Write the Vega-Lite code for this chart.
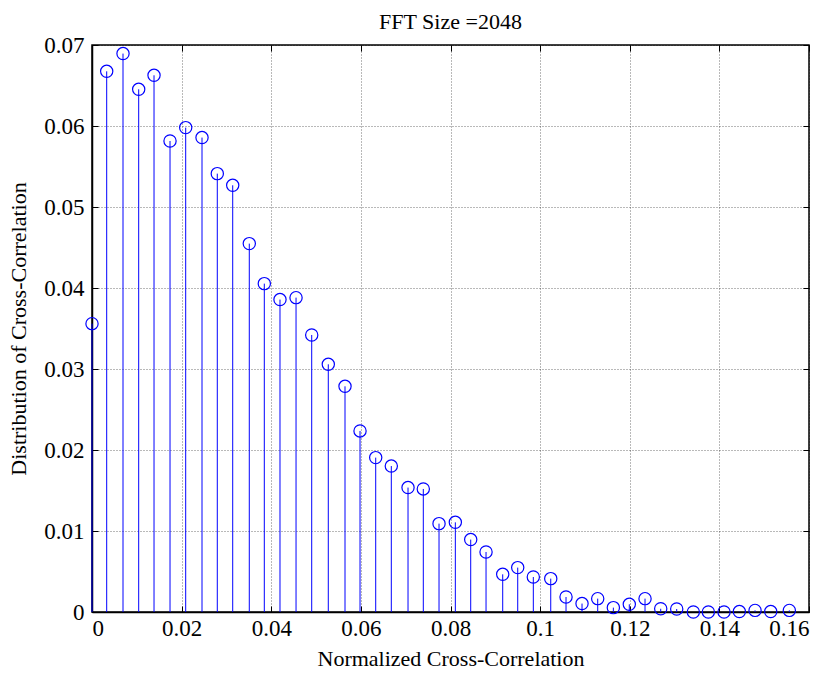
{
  "$schema": "https://vega.github.io/schema/vega-lite/v6.json",
  "width": 717,
  "height": 567,
  "autosize": "none",
  "padding": {"left": 92, "top": 45, "right": 28, "bottom": 63},
  "background": "white",
  "title": {"text": "FFT Size =2048", "font": "Liberation Serif", "fontSize": 22, "fontWeight": "normal", "color": "black", "anchor": "middle", "offset": 0},
  "config": {
    "view": {"stroke": "black", "strokeWidth": 1.5},
    "axis": {
      "labelFont": "Liberation Serif", "labelFontSize": 23, "labelColor": "black",
      "titleFont": "Liberation Serif", "titleFontSize": 22, "titleFontWeight": "normal", "titleColor": "black",
      "domainColor": "black", "domainWidth": 1.5,
      "tickColor": "black", "tickSize": -6, "tickWidth": 1,
      "gridColor": "black", "gridDash": [1, 2], "gridOpacity": 0.55, "gridWidth": 1
    }
  },
  "data": {"values": [
    {"x": 0.0, "y": 0.0356},
    {"x": 0.00328, "y": 0.06675},
    {"x": 0.00692, "y": 0.06894},
    {"x": 0.01042, "y": 0.06453},
    {"x": 0.01384, "y": 0.06626},
    {"x": 0.01741, "y": 0.05815},
    {"x": 0.02091, "y": 0.0598},
    {"x": 0.02455, "y": 0.05857},
    {"x": 0.02796, "y": 0.05412},
    {"x": 0.0314, "y": 0.05268},
    {"x": 0.0351, "y": 0.04548},
    {"x": 0.03845, "y": 0.04054},
    {"x": 0.04195, "y": 0.03857},
    {"x": 0.04553, "y": 0.03881},
    {"x": 0.04903, "y": 0.0342},
    {"x": 0.05273, "y": 0.03058},
    {"x": 0.05646, "y": 0.02786},
    {"x": 0.05981, "y": 0.02235},
    {"x": 0.06331, "y": 0.01906},
    {"x": 0.06679, "y": 0.01802},
    {"x": 0.07052, "y": 0.01536},
    {"x": 0.07393, "y": 0.01519},
    {"x": 0.07744, "y": 0.01091},
    {"x": 0.08108, "y": 0.01107},
    {"x": 0.08451, "y": 0.00894},
    {"x": 0.08793, "y": 0.00741},
    {"x": 0.09165, "y": 0.00465},
    {"x": 0.095, "y": 0.00548},
    {"x": 0.09848, "y": 0.00432},
    {"x": 0.10237, "y": 0.00412},
    {"x": 0.10578, "y": 0.00185},
    {"x": 0.10935, "y": 0.00104},
    {"x": 0.11285, "y": 0.00165},
    {"x": 0.11634, "y": 0.00054},
    {"x": 0.1199, "y": 0.00095},
    {"x": 0.12341, "y": 0.00165},
    {"x": 0.12691, "y": 0.0004},
    {"x": 0.13048, "y": 0.00037},
    {"x": 0.13419, "y": 0.0},
    {"x": 0.13754, "y": 0.0},
    {"x": 0.14104, "y": 0.0},
    {"x": 0.14446, "y": 0.00005},
    {"x": 0.14796, "y": 0.0002},
    {"x": 0.15146, "y": 0.00005},
    {"x": 0.15561, "y": 0.0002}
  ]},
  "layer": [
    {
      "mark": {"type": "rule", "color": "#0000ff", "strokeWidth": 1},
      "encoding": {
        "x": {"field": "x", "type": "quantitative", "scale": {"domain": [0, 0.16], "nice": false},
          "axis": {"orient": "bottom", "values": [0, 0.02, 0.04, 0.06, 0.08, 0.1, 0.12, 0.14, 0.16], "format": "~g", "grid": true, "title": "Normalized Cross-Correlation", "labelPadding": 11, "titlePadding": 8}},
        "y": {"field": "y", "type": "quantitative", "scale": {"domain": [0, 0.07], "nice": false},
          "axis": {"orient": "left", "values": [0, 0.01, 0.02, 0.03, 0.04, 0.05, 0.06, 0.07], "format": "~g", "grid": true, "title": "Distribution of Cross-Correlation", "labelPadding": 14, "titlePadding": 13}},
        "y2": {"datum": 0}
      }
    },
    {
      "mark": {"type": "point", "shape": "circle", "filled": false, "color": "#0000ff", "size": 150, "strokeWidth": 1.2, "opacity": 1},
      "encoding": {
        "x": {"field": "x", "type": "quantitative",
          "axis": {"orient": "top", "values": [0, 0.02, 0.04, 0.06, 0.08, 0.1, 0.12, 0.14, 0.16], "labels": false, "grid": false, "domain": false, "title": null}},
        "y": {"field": "y", "type": "quantitative",
          "axis": {"orient": "right", "values": [0, 0.01, 0.02, 0.03, 0.04, 0.05, 0.06, 0.07], "labels": false, "grid": false, "domain": false, "title": null}}
      }
    }
  ],
  "resolve": {"axis": {"x": "independent", "y": "independent"}}
}
